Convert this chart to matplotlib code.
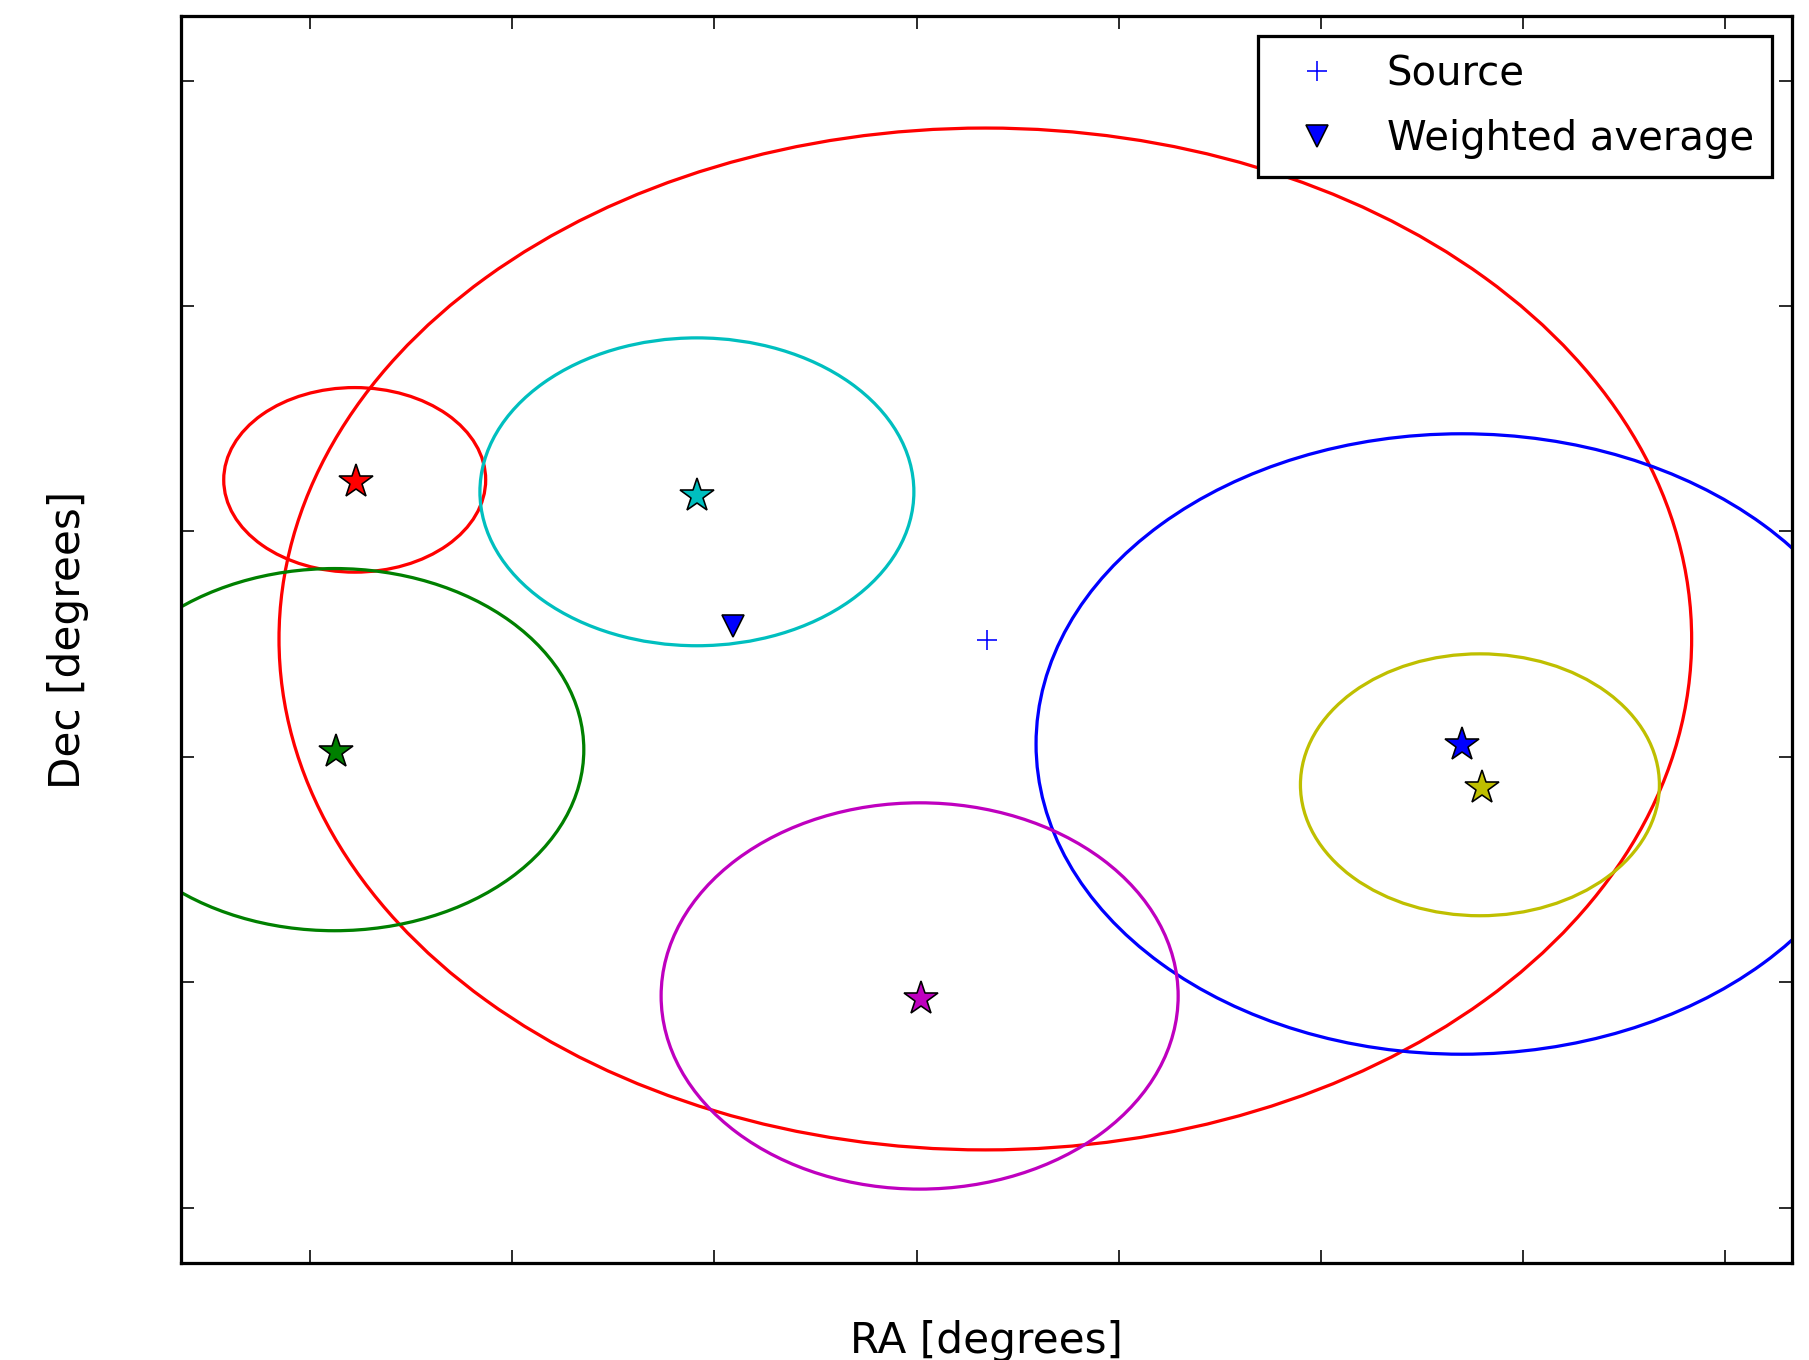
import numpy as np
import matplotlib
matplotlib.use('Agg')
from matplotlib import pyplot as plt
from matplotlib.patches import Ellipse

# error ellipses of each detection (tick units: x step = 1 RA tick, y step = 1 Dec tick)
ell_colors = ['r', 'r', 'c', 'g', 'b', 'y', 'm']
ell_cx = [3.34, 0.22, 1.913, 0.12, 5.698, 5.787, 3.015]
ell_cy = [2.523, 3.229, 3.176, 2.032, 2.057, 1.876, 0.939]
ell_w = [6.989, 1.296, 2.147, 2.467, 4.214, 1.776, 2.558]
ell_h = [4.534, 0.819, 1.366, 1.607, 2.753, 1.162, 1.714]

# star positions of detections
star_colors = ['r', 'c', 'g', 'm', 'b', 'y']
star_x = [0.228, 1.913, 0.126, 3.02, 5.698, 5.795]
star_y = [3.219, 3.158, 2.021, 0.926, 2.052, 1.863]

source_x = [3.346]
source_y = [2.518]
wavg_x = [2.09]
wavg_y = [2.579]

xticks = [0, 1, 2, 3, 4, 5, 6, 7]
yticks = [0, 1, 2, 3, 4, 5]

plt.style.use('classic')
fig = plt.figure(figsize=(1809 / 233.0, 1360 / 233.0), dpi=233, facecolor='white')
ax = fig.add_axes([0.1001, 0.0713, 0.8905, 0.9169])

for c, x, y, w, h in zip(ell_colors, ell_cx, ell_cy, ell_w, ell_h):
    ax.add_patch(Ellipse((x, y), w, h, fill=False, edgecolor=c, linewidth=1.0))

for c, x, y in zip(star_colors, star_x, star_y):
    ax.plot(x, y, '*', color=c, markersize=11, markeredgecolor='k', markeredgewidth=0.5)

ax.plot(source_x, source_y, 'b+', markersize=6, label='Source')
ax.plot(wavg_x, wavg_y, 'bv', markersize=7, markeredgewidth=0.5, label='Weighted average')

ax.set_xlim(-0.639, 7.331)
ax.set_ylim(-0.246, 5.287)
ax.set_xticks(xticks)
ax.set_yticks(yticks)
ax.set_xticklabels([])
ax.set_yticklabels([])

ax.set_xlabel('RA [degrees]', fontsize=13)
ax.set_ylabel('Dec [degrees]', fontsize=13)
ax.xaxis.set_label_coords(0.5, -0.046)
ax.yaxis.set_label_coords(-0.057, 0.5)

ax.legend(loc='upper right', numpoints=1, fontsize=12.4, labelspacing=0.62,
          borderpad=0.45, handletextpad=0.75)

fig.savefig('out.png', dpi=233, facecolor='white')
